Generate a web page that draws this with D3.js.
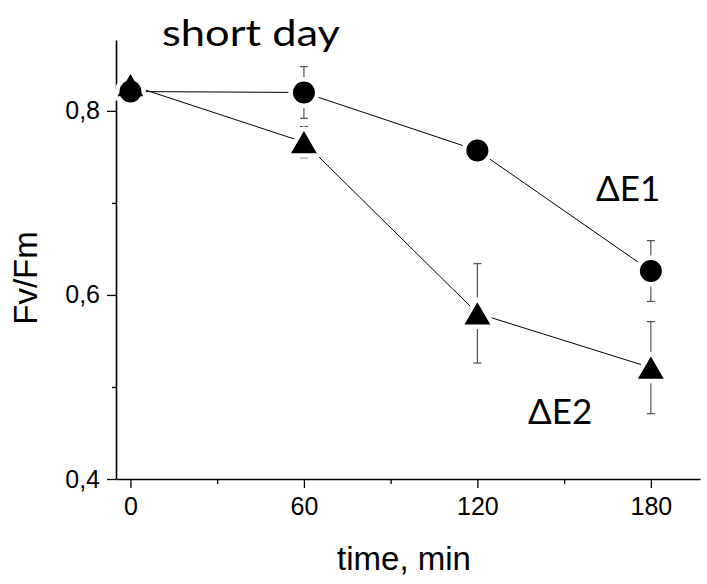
<!DOCTYPE html>
<html>
<head>
<meta charset="utf-8">
<script src="https://cdn.jsdelivr.net/npm/d3@7"></script>
<style>
  html, body { margin: 0; padding: 0; background: #fff; }
  svg { display: block; }
</style>
</head>
<body>
<svg id="chart" width="707" height="584"></svg>
<script>
// Sampling times (min)
const times = [0, 60, 120, 180];
// Fv/Fm for each line, with error half-widths
const e1Values = [0.821, 0.820, 0.757, 0.626];
const e1Errors = [0.011, 0.028, 0.006, 0.033];
const e2Values = [0.828, 0.766, 0.580, 0.521];
const e2Errors = [0.008, 0.017, 0.054, 0.050];
// Axis ticks
const xMajorTicks = [0, 60, 120, 180];
const xMinorTicks = [30, 90, 150];
const yMajorTicks = [0.4, 0.6, 0.8];
const yMinorTicks = [0.5, 0.7];
// Text labels
const titleText = "short day";
const e1Label = "ΔE1";
const e2Label = "ΔE2";
const xTitle = "time, min";
const yTitle = "Fv/Fm";

const svg = d3.select("#chart");

const x = d3.scaleLinear().domain([-5, 197]).range([116, 700]);
const y = d3.scaleLinear().domain([0.4, 0.877]).range([479, 40]);

const sansAxis = "Arial, 'Liberation Sans', sans-serif";
const sansText = "Lato, Carlito, Calibri, sans-serif";

// Axes
const xAxis = svg.append("g").attr("transform", `translate(0,${y(0.4)})`)
  .call(d3.axisBottom(x).tickValues(xMajorTicks).tickSize(9).tickPadding(9).tickSizeOuter(0)
    .tickFormat(d3.format("d")));
const xMinor = svg.append("g").attr("transform", `translate(0,${y(0.4)})`)
  .call(d3.axisBottom(x).tickValues(xMinorTicks).tickSize(5).tickFormat("").tickSizeOuter(0));
xMinor.select(".domain").remove();

const commaFmt = d => d3.format(".1f")(d).replace(".", ",");
const yAxis = svg.append("g").attr("transform", `translate(${x.range()[0]},0)`)
  .call(d3.axisLeft(y).tickValues(yMajorTicks).tickSize(9).tickPadding(7).tickSizeOuter(0)
    .tickFormat(commaFmt));
const yMinor = svg.append("g").attr("transform", `translate(${x.range()[0]},0)`)
  .call(d3.axisLeft(y).tickValues(yMinorTicks).tickSize(4).tickFormat("").tickSizeOuter(0));
yMinor.select(".domain").remove();

svg.selectAll(".domain").attr("stroke", "#000").attr("stroke-width", 1.6);
svg.selectAll(".tick line").attr("stroke", "#000").attr("stroke-width", 1.3);
svg.selectAll(".tick text").attr("font-family", sansAxis).attr("font-size", 25).attr("fill", "#000");

// Data series
const series = [
  { name: "E1", values: e1Values, errors: e1Errors, symbol: d3.symbolCircle, size: Math.PI * 11 * 11 },
  { name: "E2", values: e2Values, errors: e2Errors, symbol: d3.symbolTriangle, size: 290 }
];

const line = d3.line().x(d => x(d[0])).y(d => y(d[1]));

// Connecting lines
series.forEach(s => {
  svg.append("path")
    .datum(times.map((t, i) => [t, s.values[i]]))
    .attr("d", line)
    .attr("fill", "none")
    .attr("stroke", "#000")
    .attr("stroke-width", 1);
});

// Error bars
series.forEach(s => {
  const g = svg.append("g").attr("stroke", "#444").attr("stroke-width", 1.1);
  times.forEach((t, i) => {
    const cx = x(t), top = y(s.values[i] + s.errors[i]), bot = y(s.values[i] - s.errors[i]);
    g.append("line").attr("x1", cx).attr("x2", cx).attr("y1", top).attr("y2", bot);
    g.append("line").attr("x1", cx - 4).attr("x2", cx + 4).attr("y1", top).attr("y2", top);
    g.append("line").attr("x1", cx - 4).attr("x2", cx + 4).attr("y1", bot).attr("y2", bot);
  });
});

// Symbol path centred on its bounding box
function symbolPath(s) {
  return d3.symbol().type(s.symbol).size(s.size)();
}
function symbolOffset(s) {
  if (s.symbol === d3.symbolTriangle) {
    // d3 triangle is centred on its centroid; shift to bounding-box centre
    const side = Math.sqrt(s.size / (Math.sqrt(3) / 4));
    const h = side * Math.sqrt(3) / 2;
    return h / 6;
  }
  return 0;
}

// White halos leave a small gap between lines and markers
series.forEach(s => {
  times.forEach((t, i) => {
    svg.append("path")
      .attr("d", symbolPath(s))
      .attr("transform", `translate(${x(t)},${y(s.values[i]) + symbolOffset(s)})`)
      .attr("fill", "#fff").attr("stroke", "#fff").attr("stroke-width", 9)
      .attr("stroke-linejoin", "round");
  });
});
series.forEach(s => {
  times.forEach((t, i) => {
    svg.append("path")
      .attr("d", symbolPath(s))
      .attr("transform", `translate(${x(t)},${y(s.values[i]) + symbolOffset(s)})`)
      .attr("fill", "#000");
  });
});

// Texts
svg.append("text").attr("x", 162).attr("y", 46)
  .attr("textLength", 178).attr("lengthAdjust", "spacingAndGlyphs")
  .attr("font-family", sansText).attr("font-size", 37).attr("fill", "#000").text(titleText);
svg.append("text").attr("x", 596).attr("y", 201)
  .attr("font-family", sansText).attr("font-size", 35).attr("fill", "#000").text(e1Label);
svg.append("text").attr("x", 528).attr("y", 424)
  .attr("font-family", sansText).attr("font-size", 35).attr("fill", "#000").text(e2Label);
svg.append("text").attr("x", 404).attr("y", 570).attr("text-anchor", "middle")
  .attr("font-family", sansAxis).attr("font-size", 33).attr("fill", "#000").text(xTitle);
svg.append("text").attr("transform", "translate(37,278) rotate(-90)").attr("text-anchor", "middle")
  .attr("font-family", sansAxis).attr("font-size", 33).attr("fill", "#000").text(yTitle);
</script>
</body>
</html>
